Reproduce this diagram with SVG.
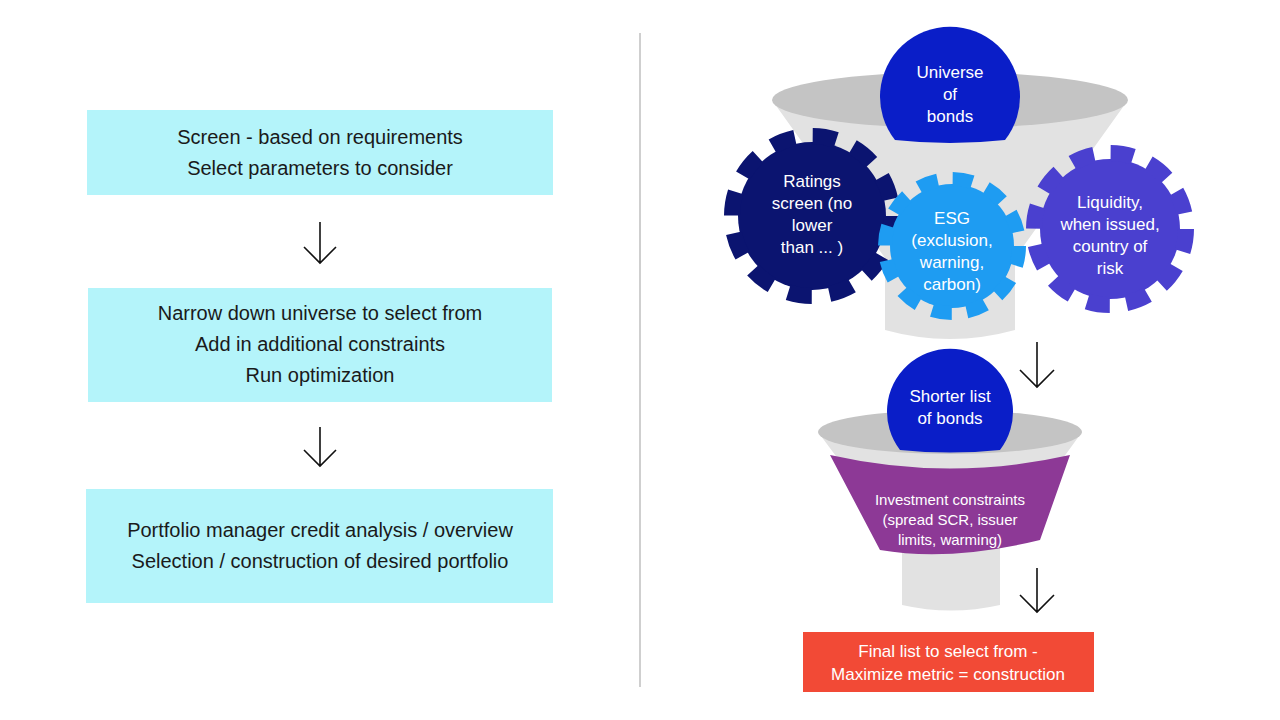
<svg xmlns="http://www.w3.org/2000/svg" width="1280" height="720" viewBox="0 0 1280 720">
<style>
.box{fill:#b4f4fa}
.lt{font-family:"Liberation Sans",Arial,sans-serif;font-size:20px;fill:#1a1a1a;text-anchor:middle}
.wt{font-family:"Liberation Sans",Arial,sans-serif;font-size:17px;fill:#fff;text-anchor:middle}
.arr{stroke:#111;stroke-width:1.6;fill:none}
</style>
<rect width="1280" height="720" fill="#fff"/>
<line x1="640" y1="33" x2="640" y2="687" stroke="#cfcfcf" stroke-width="2"/>
<g id="box1"><rect class="box" x="87" y="110" width="466" height="85"/>
<text class="lt" x="320" y="144">Screen - based on requirements</text>
<text class="lt" x="320" y="175">Select parameters to consider</text></g>
<g id="box2"><rect class="box" x="88" y="288" width="464" height="114"/>
<text class="lt" x="320" y="320">Narrow down universe to select from</text>
<text class="lt" x="320" y="351">Add in additional constraints</text>
<text class="lt" x="320" y="382">Run optimization</text></g>
<g id="box3"><rect class="box" x="86" y="489" width="467" height="114"/>
<text class="lt" x="320" y="537">Portfolio manager credit analysis / overview</text>
<text class="lt" x="320" y="568">Selection / construction of desired portfolio</text></g>
<g id="funnel1">
<path d="M772,100 L885,258 L885,330 Q950,348 1015,330 L1015,258 L1128,100 Z" fill="#e2e2e2"/>
<ellipse cx="950" cy="100" rx="178" ry="28" fill="#c4c4c4"/>
</g>
<g id="universe"><path d="M895,140 A70,70 0 1 1 1005,140 Q950,146 895,140 Z" fill="#0a1ec8"/>
<text class="wt" x="950" y="78">Universe</text><text class="wt" x="950" y="100">of</text><text class="wt" x="950" y="122">bonds</text></g>
<g id="ratings">
<circle cx="812" cy="216" r="74" fill="#0b1470"/>
<circle cx="812" cy="216" r="80" fill="none" stroke="#0b1470" stroke-width="16" stroke-dasharray="24 17.9"/>
<text class="wt" x="812" y="187">Ratings</text><text class="wt" x="812" y="209">screen (no</text><text class="wt" x="812" y="231">lower</text><text class="wt" x="812" y="253">than ... )</text></g>
<g id="liquidity">
<circle cx="1110" cy="229" r="70" fill="#4a40cf"/>
<circle cx="1110" cy="229" r="76" fill="none" stroke="#4a40cf" stroke-width="16" stroke-dasharray="23 16.8"/>
<text class="wt" x="1110" y="208">Liquidity,</text><text class="wt" x="1110" y="230">when issued,</text><text class="wt" x="1110" y="252">country of</text><text class="wt" x="1110" y="274">risk</text></g>
<g id="esg">
<circle cx="952" cy="246" r="62" fill="#1e9cf2"/>
<circle cx="952" cy="246" r="67" fill="none" stroke="#1e9cf2" stroke-width="14" stroke-dasharray="20 15.1"/>
<text class="wt" x="952" y="224">ESG</text><text class="wt" x="952" y="246">(exclusion,</text><text class="wt" x="952" y="268">warning,</text><text class="wt" x="952" y="290">carbon)</text></g>
<g id="funnel2">
<path d="M818,432 L902,545 L902,605 Q951,616 1000,605 L1000,545 L1082,432 Z" fill="#e2e2e2"/>
<ellipse cx="950" cy="432" rx="132" ry="22" fill="#c4c4c4"/>
</g>
<g id="shorter"><path d="M900,450 A63,63 0 1 1 1000,450 Q950,455 900,450 Z" fill="#0a1ec8"/>
<text class="wt" x="950" y="402">Shorter list</text><text class="wt" x="950" y="424">of bonds</text></g>
<g id="constraints"><path d="M830,455 Q950,482 1070,455 L1040,540 Q950,562 880,550 Z" fill="#8d3996"/>
<text class="wt" x="950" y="505" style="font-size:15px">Investment constraints</text>
<text class="wt" x="950" y="525" style="font-size:15px">(spread SCR, issuer</text>
<text class="wt" x="950" y="545" style="font-size:15px">limits, warming)</text></g>
<g id="final"><rect x="803" y="632" width="291" height="60" fill="#f24a36"/>
<text class="wt" x="948" y="657">Final list to select from -</text>
<text class="wt" x="948" y="680">Maximize metric = construction</text></g>
<g id="connectors">
<path class="arr" d="M320,222 V263 M304,247 L320,263 L336,247"/>
<path class="arr" d="M320,427 V466 M304,450 L320,466 L336,450"/>
<path class="arr" d="M1037,342 V387 M1020,370 L1037,387 L1054,370"/>
<path class="arr" d="M1037,568 V612 M1020,595 L1037,612 L1054,595"/>
</g>
</svg>
